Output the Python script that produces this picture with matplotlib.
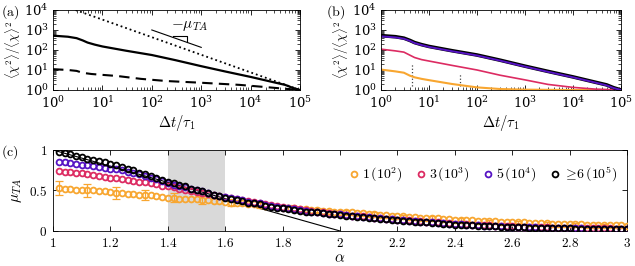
import numpy as np
import matplotlib
matplotlib.use("Agg")
import matplotlib.pyplot as plt
from matplotlib.ticker import FuncFormatter, LogLocator, NullFormatter

plt.rcParams['mathtext.fontset'] = 'cm'
plt.rcParams['font.family'] = ['DejaVu Serif']
plt.rcParams['xtick.direction'] = 'in'
plt.rcParams['ytick.direction'] = 'in'
plt.rcParams['xtick.top'] = True
plt.rcParams['ytick.right'] = True

# ---- panel (a) / (b) data ----
t_black = [1, 2, 3, 4, 5, 7, 10, 30, 100, 300, 1e3, 3e3, 1e4, 3e4, 5e4, 7e4, 1e5]
v_black = [520, 460, 390, 300, 235, 185, 150, 92, 56, 31, 15.5, 8.5, 4.5, 2.4, 1.8, 1.3, 1.0]
v_purple = [480, 425, 365, 285, 222, 176, 142, 87, 53, 29.5, 14.8, 8.1, 4.3, 2.3, 1.7, 1.25, 1.0]

t_pink = [1, 2, 3, 4, 5, 7, 10, 30, 100, 300, 1e3, 3e3, 1e4, 3e4, 1e5]
v_pink = [110, 90, 78, 55, 42, 33, 28, 17, 10, 5.5, 3.2, 1.9, 1.35, 1.1, 1.0]

t_orange = [1, 2, 3, 4, 5, 7, 10, 30, 100, 300, 1e3, 1e4, 1e5]
v_orange = [10.5, 8.5, 7.3, 5.2, 4.3, 3.6, 3.1, 2.0, 1.35, 1.12, 1.04, 1.0, 1.0]

t_dash = [1, 2, 3, 4, 6, 10, 20, 60, 200, 1e3, 6e3, 2e4, 5e4, 1e5]
v_dash = [11, 10, 9, 7.2, 6.3, 5.7, 5.0, 3.6, 2.8, 2.3, 1.8, 1.4, 1.15, 1.0]

dotted_x = [1, 1e5]
dotted_y = [2.5e4, 1.0]

# slope guide
guide_x = [100, 1000]
guide_y = [1000, 135]
tri_x = [270, 510, 510]
tri_y = [500, 500, 250]

# crossover markers in (b)
cross_x = [4.4, 44]
cross_lo = [1.5, 1.5]
cross_hi = [22, 6.5]

# ---- panel (c) data ----
alpha = np.round(np.arange(1.02, 3.001, 0.02), 2)
mu_black = [0.98, 0.96, 0.95, 0.93, 0.91, 0.89, 0.88, 0.86, 0.85, 0.83,
            0.81, 0.79, 0.77, 0.75, 0.72, 0.70, 0.68, 0.66, 0.63, 0.60,
            0.59, 0.57, 0.55, 0.52, 0.50, 0.49, 0.47, 0.45, 0.43, 0.41,
            0.40, 0.38, 0.37, 0.35, 0.34, 0.33, 0.31, 0.30, 0.29, 0.28,
            0.27, 0.26, 0.25, 0.24, 0.235, 0.23, 0.22, 0.21, 0.205, 0.20,
            0.19, 0.18, 0.175, 0.17, 0.165, 0.16, 0.15, 0.145, 0.14, 0.13,
            0.125, 0.12, 0.115, 0.11, 0.105, 0.10, 0.095, 0.09, 0.085, 0.08,
            0.078, 0.074, 0.07, 0.066, 0.063, 0.06, 0.058, 0.055, 0.052, 0.05,
            0.048, 0.045, 0.043, 0.041, 0.04, 0.038, 0.036, 0.035, 0.033, 0.032,
            0.03, 0.029, 0.028, 0.027, 0.026, 0.025, 0.024, 0.023, 0.022, 0.021]
mu_purple = [0.85, 0.85, 0.84, 0.83, 0.82, 0.81, 0.80, 0.79, 0.78, 0.77,
             0.76, 0.75, 0.73, 0.72, 0.70, 0.68, 0.66, 0.64, 0.62, 0.59,
             0.57, 0.56, 0.54, 0.52, 0.50, 0.49, 0.47, 0.45, 0.43, 0.42,
             0.41, 0.40, 0.38, 0.36, 0.35, 0.34, 0.32, 0.31, 0.30, 0.29,
             0.28, 0.27, 0.26, 0.25, 0.24, 0.235, 0.225, 0.215, 0.21, 0.205,
             0.195, 0.185, 0.18, 0.175, 0.17, 0.16, 0.155, 0.15, 0.145, 0.135,
             0.13, 0.125, 0.12, 0.115, 0.11, 0.105, 0.10, 0.095, 0.09, 0.085,
             0.082, 0.078, 0.074, 0.07, 0.067, 0.064, 0.061, 0.058, 0.055, 0.052,
             0.05, 0.048, 0.046, 0.044, 0.042, 0.04, 0.038, 0.037, 0.035, 0.034,
             0.032, 0.031, 0.03, 0.029, 0.028, 0.027, 0.026, 0.025, 0.024, 0.023]
mu_pink = [0.74, 0.73, 0.73, 0.72, 0.71, 0.70, 0.69, 0.68, 0.67, 0.66,
           0.65, 0.64, 0.63, 0.62, 0.61, 0.60, 0.59, 0.58, 0.56, 0.55,
           0.54, 0.52, 0.51, 0.49, 0.48, 0.47, 0.46, 0.44, 0.43, 0.42,
           0.41, 0.39, 0.38, 0.37, 0.36, 0.34, 0.33, 0.32, 0.31, 0.30,
           0.29, 0.28, 0.27, 0.26, 0.25, 0.24, 0.23, 0.22, 0.215, 0.21,
           0.20, 0.19, 0.185, 0.18, 0.17, 0.165, 0.16, 0.15, 0.145, 0.14,
           0.135, 0.13, 0.125, 0.12, 0.115, 0.11, 0.105, 0.10, 0.095, 0.09,
           0.087, 0.083, 0.08, 0.076, 0.073, 0.07, 0.067, 0.064, 0.061, 0.058,
           0.055, 0.053, 0.051, 0.049, 0.047, 0.045, 0.043, 0.041, 0.04, 0.038,
           0.037, 0.036, 0.035, 0.034, 0.033, 0.032, 0.031, 0.03, 0.03, 0.03]
mu_orange = [0.53, 0.52, 0.52, 0.51, 0.51, 0.50, 0.50, 0.49, 0.49, 0.48,
             0.47, 0.47, 0.46, 0.46, 0.45, 0.44, 0.44, 0.43, 0.42, 0.41,
             0.41, 0.40, 0.40, 0.39, 0.39, 0.38, 0.38, 0.37, 0.37, 0.36,
             0.35, 0.35, 0.34, 0.33, 0.33, 0.32, 0.31, 0.31, 0.30, 0.29,
             0.29, 0.28, 0.27, 0.27, 0.26, 0.26, 0.25, 0.25, 0.24, 0.24,
             0.23, 0.23, 0.22, 0.22, 0.21, 0.21, 0.20, 0.20, 0.19, 0.185,
             0.18, 0.175, 0.17, 0.165, 0.16, 0.16, 0.155, 0.15, 0.145, 0.14,
             0.135, 0.13, 0.13, 0.125, 0.12, 0.12, 0.12, 0.115, 0.115, 0.11,
             0.11, 0.105, 0.10, 0.10, 0.095, 0.095, 0.09, 0.09, 0.088, 0.086,
             0.084, 0.082, 0.08, 0.078, 0.076, 0.074, 0.072, 0.07, 0.068, 0.066]
# error bars on every 5th orange point
err_orange = [0.09, 0.075, 0.07, 0.06, 0.055, 0.05, 0.045, 0.04, 0.03, 0.03,
              0.025, 0.025, 0.02, 0.02, 0.02, 0.02, 0.015, 0.015, 0.015, 0.015]

theory_x = [1, 2]
theory_y = [1, 0]

labels = [r'$1\,(10^2)$', r'$3\,(10^3)$', r'$5\,(10^4)$', r'$\geq\!6\,(10^5)$']
c_orange = '#f8a630'
c_pink = '#dc2b62'
c_purple = '#5613c4'
c_black = 'black'

ylab = r'$\langle\chi^2\rangle/\langle\chi\rangle^2$'
xlab = r'$\Delta t/\tau_1$'

fig = plt.figure(figsize=(6.35, 2.66), dpi=100)
ax_a = fig.add_axes([0.0835, 0.6617, 0.389, 0.3008])
ax_b = fig.add_axes([0.6, 0.6617, 0.378, 0.3008])
ax_c = fig.add_axes([0.0835, 0.1316, 0.904, 0.3045])


def style_log(ax):
    ax.set_xscale('log')
    ax.set_yscale('log')
    ax.set_xlim(1, 1e5)
    ax.set_ylim(1, 1e4)
    ax.xaxis.set_major_locator(LogLocator(base=10, numticks=10))
    ax.yaxis.set_major_locator(LogLocator(base=10, numticks=10))
    ax.xaxis.set_minor_locator(LogLocator(base=10, subs=np.arange(2, 10), numticks=20))
    ax.yaxis.set_minor_locator(LogLocator(base=10, subs=np.arange(2, 10), numticks=20))
    ax.xaxis.set_minor_formatter(NullFormatter())
    ax.yaxis.set_minor_formatter(NullFormatter())
    ax.tick_params(which='both', top=True, right=True, labelsize=9.5)
    ax.tick_params(axis='x', pad=4)
    ax.tick_params(axis='y', pad=3)
    ax.tick_params(which='major', length=3.5, width=0.6)
    ax.tick_params(which='minor', length=2, width=0.5)
    for s in ax.spines.values():
        s.set_linewidth(0.6)
    ax.set_xlabel(xlab, fontsize=10.5, labelpad=1)
    ax.set_ylabel(ylab, fontsize=9, labelpad=1)


# (a)
style_log(ax_a)
ax_a.plot(dotted_x, dotted_y, color='black', ls=':', lw=1.3)
ax_a.plot(t_black, v_black, color='black', lw=1.6)
ax_a.plot(t_dash, v_dash, color='black', lw=1.5, ls=(0, (5, 3)))
ax_a.plot(guide_x, guide_y, color='black', lw=0.8)
ax_a.plot(tri_x, tri_y, color='black', lw=0.8)
ax_a.text(250, 1500, r'$-\mu_{TA}$', fontsize=11, ha='left', va='center')

# (b)
style_log(ax_b)
ax_b.vlines(cross_x, cross_lo, cross_hi, colors='#444444', linestyles=':', lw=0.9)
ax_b.plot(t_orange, v_orange, color=c_orange, lw=1.5)
ax_b.plot(t_pink, v_pink, color=c_pink, lw=1.2)
ax_b.plot(t_black, v_black, color=c_black, lw=2.6)
ax_b.plot(t_black, v_purple, color=c_purple, lw=1.4)

# (c)
ax_c.axvspan(1.4, 1.6, color='#d9d9d9', lw=0, zorder=0)
ax_c.plot(theory_x, theory_y, color='black', lw=0.8, zorder=1)
mk = dict(ls='none', marker='o', ms=4.2, mfc='none', mew=1.3)
ax_c.errorbar(alpha[::5], np.array(mu_orange)[::5], yerr=err_orange, fmt='none',
              ecolor=c_orange, elinewidth=0.9, capsize=3, capthick=0.9, zorder=2)
ax_c.plot(alpha, mu_orange, color=c_orange, label=labels[0], zorder=3, **mk)
ax_c.plot(alpha, mu_pink, color=c_pink, label=labels[1], zorder=4, **mk)
ax_c.plot(alpha, mu_purple, color=c_purple, label=labels[2], zorder=5, **mk)
ax_c.plot(alpha, mu_black, color=c_black, label=labels[3], zorder=6, **mk)
ax_c.set_xlim(1, 3)
ax_c.set_ylim(0, 1)
ax_c.set_xticks(np.round(np.arange(1, 3.01, 0.2), 1))
ax_c.set_yticks([0, 0.5, 1])
fmt = FuncFormatter(lambda v, p: r'$\mathrm{%s}$' % ('%g' % v))
ax_c.xaxis.set_major_formatter(fmt)
ax_c.yaxis.set_major_formatter(fmt)
ax_c.tick_params(top=True, right=True, labelsize=9.5, length=3.5, width=0.6, pad=4)
for s in ax_c.spines.values():
    s.set_linewidth(0.6)
ax_c.set_xlabel(r'$\alpha$', fontsize=11, labelpad=1)
ax_c.set_ylabel(r'$\mu_{TA}$', fontsize=11, labelpad=4)
ax_c.legend(loc='upper right', ncol=4, frameon=False, fontsize=10,
            handlelength=0.6, handletextpad=0.3, columnspacing=1.0,
            borderaxespad=0.3, bbox_to_anchor=(1.0, 0.93))

fig.text(0.002, 0.955, r'$\mathrm{(a)}$', fontsize=10, va='center')
fig.text(0.514, 0.955, r'$\mathrm{(b)}$', fontsize=10, va='center')
fig.text(0.002, 0.43, r'$\mathrm{(c)}$', fontsize=10, va='center')

fig.savefig('out.png', dpi=100)
